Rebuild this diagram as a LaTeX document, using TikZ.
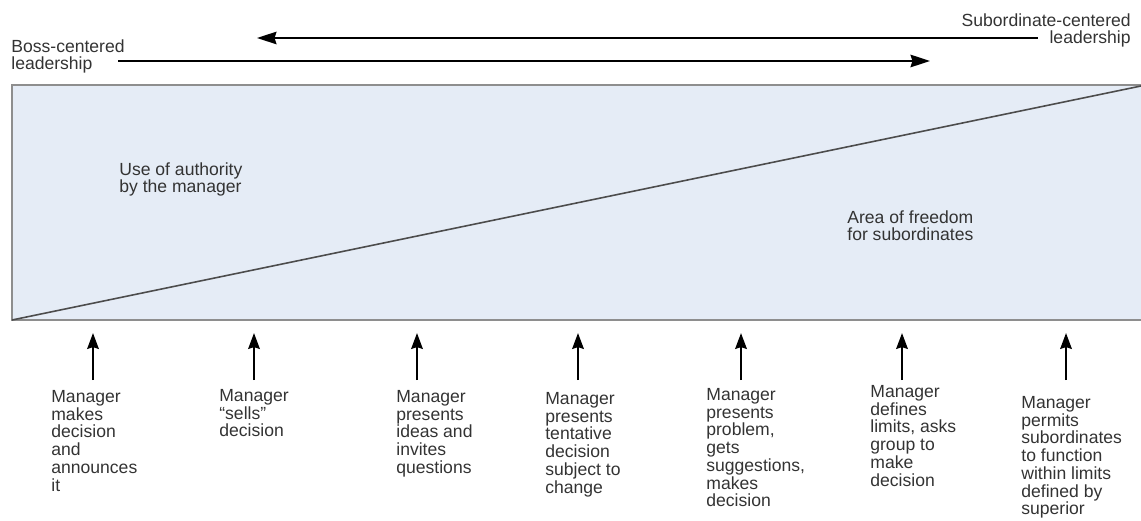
\documentclass[tikz,border=0pt]{standalone}
\usepackage{fontspec}
\setmainfont{Liberation Sans}
\usepackage{tikz}
\usetikzlibrary{positioning}
\usetikzlibrary{arrows.meta}

\definecolor{areafill}{HTML}{E5ECF6}
\definecolor{framegray}{HTML}{8E8E8E}
\definecolor{textgray}{HTML}{333333}

\begin{document}
\begin{tikzpicture}[x=0.02cm,y=-0.02cm,>={Stealth[length=9pt,width=6.5pt,inset=1pt]}]
\tikzset{Label/.style = {inner sep=0pt, align=left, text=textgray,
                         font=\fontsize{10}{10.1}\selectfont},
         Step/.style  = {Label, anchor=north west},
         Push/.style  = {->, line width=1.5pt, black}}
\useasboundingbox (0,0) rectangle (1141,520);

% the field of the continuum
\fill[areafill] (12,85) rectangle (1141,320);
\draw[framegray, line width=1pt] (1141,85) -- (12,85) -- (12,320) -- (1141,320);
\coordinate (low) at (12,320); \coordinate (high) at (1141,86);
\draw[black!70, line width=0.9pt] (low) -- (high);

\node[Label, anchor=north west] (boss) at (11,39) {Boss-centered\\leadership};
\node[Label, anchor=north east, align=right] (sub) at (1131,13) {Subordinate-centered\\leadership};
\node[Label, anchor=north west] (authority) at (119,162) {Use of authority\\by the manager};
\node[Label, anchor=north west] (freedom) at (847,210) {Area of freedom\\for subordinates};

\coordinate (topR) at (1038,38);  \coordinate (topL) at (257,38);
\coordinate (lowL) at (118,61);   \coordinate (lowR) at (930,61);
\draw[Push, {Stealth[length=11pt,width=7pt,inset=1pt]}-] (topL) -- (topR);
\draw[Push, -{Stealth[length=11pt,width=7pt,inset=1pt]}] (lowL) -- (lowR);

% behaviours along the range
\node[Step] (s1) at (51,390)   {Manager\\makes\\decision\\and\\announces\\it};
\node[Step] (s2) at (219,389)  {Manager\\“sells”\\decision};
\node[Step] (s3) at (396,390)  {Manager\\presents\\ideas and\\invites\\questions};
\node[Step] (s4) at (545,392)  {Manager\\presents\\tentative\\decision\\subject to\\change};
\node[Step] (s5) at (706,388)  {Manager\\presents\\problem,\\gets\\suggestions,\\makes\\decision};
\node[Step] (s6) at (870,385)  {Manager\\defines\\limits, asks\\group to\\make\\decision};
\node[Step] (s7) at (1021,396) {Manager\\permits\\subordinates\\to function\\within limits\\defined by\\superior};

\foreach \i/\x in {1/93,2/254,3/417,4/578,5/741,6/902,7/1066}{
  \coordinate (foot\i) at (\x,380); \coordinate (tip\i) at (\x,333);
  \draw[Push] (foot\i) -- (tip\i);
}
\end{tikzpicture}
\end{document}
